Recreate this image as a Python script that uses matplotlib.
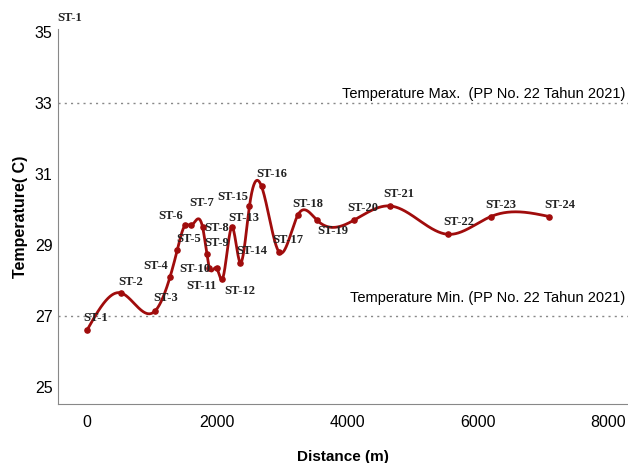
import numpy as np
import matplotlib.pyplot as plt

stations = [f'ST-{i}' for i in range(1, 25)]
distance = [0, 520, 1050, 1275, 1385, 1505, 1600, 1775, 1840, 1880, 1990, 2080,
            2225, 2355, 2495, 2680, 2950, 3240, 3530, 4100, 4650, 5550, 6200, 7100]
temperature = [26.6, 27.65, 27.15, 28.1, 28.85, 29.55, 29.55, 29.5, 28.75, 28.35, 28.35, 28.05,
               29.5, 28.5, 30.1, 30.65, 28.8, 29.85, 29.7, 29.7, 30.1, 29.3, 29.8, 29.8]
t_max, t_min = 33, 27
yticks = [25, 27, 29, 31, 33, 35]
xticks = [0, 2000, 4000, 6000, 8000]

# label offsets in pixels (dx, dy up)
offs = [(9, 12), (10, 11), (10, 13), (-14, 11), (11, 11), (-14, 9), (10, 22), (14, -1),
        (10, 11), (-15, -1), (-15, -18), (17, -12), (12, 9), (11, 12), (-17, 9), (10, 12),
        (9, 12), (10, 11), (16, -11), (9, 12), (9, 12), (10, 12), (10, 12), (10, 12)]


def natural_spline(x, y, xs):
    x = np.asarray(x, float); y = np.asarray(y, float)
    n = len(x); h = np.diff(x)
    A = np.zeros((n, n)); r = np.zeros(n)
    A[0, 0] = A[-1, -1] = 1
    for i in range(1, n - 1):
        A[i, i-1] = h[i-1]; A[i, i] = 2 * (h[i-1] + h[i]); A[i, i+1] = h[i]
        r[i] = 3 * ((y[i+1] - y[i]) / h[i] - (y[i] - y[i-1]) / h[i-1])
    c = np.linalg.solve(A, r)
    b = (y[1:] - y[:-1]) / h - h * (2 * c[:-1] + c[1:]) / 3
    d = (c[1:] - c[:-1]) / (3 * h)
    k = np.clip(np.searchsorted(x, xs) - 1, 0, n - 2)
    t = xs - x[k]
    return y[k] + b[k] * t + c[k] * t**2 + d[k] * t**3


fig = plt.figure(figsize=(6.28, 4.63), dpi=100)
ax = fig.add_axes([0.0924, 0.1274, 0.9076, 0.8096])

xs = np.linspace(distance[0], distance[-1], 2000)
ax.plot(xs, natural_spline(distance, temperature, xs), color='#a00c0c', lw=2, zorder=3)
ax.scatter(distance, temperature, s=14, color='#a00c0c', zorder=4)

for st, d, t, (dx, dy) in zip(stations, distance, temperature, offs):
    ax.annotate(st, (d, t), xytext=(dx * 0.72, dy * 0.72), textcoords='offset points',
                ha='center', va='center', fontsize=9, family='Liberation Serif',
                fontweight='bold', color='#222222', zorder=5)

ax.axhline(t_max, color='#888888', ls=(0, (1.5, 3)), lw=1, zorder=1)
ax.axhline(t_min, color='#888888', ls=(0, (1.5, 3)), lw=1, zorder=1)
ax.text(8260, t_max + 0.05, 'Temperature Max.  (PP No. 22 Tahun 2021)', ha='right', va='bottom',
        fontsize=10.5, family='Liberation Sans')
ax.text(8260, t_min + 0.3, 'Temperature Min. (PP No. 22 Tahun 2021)', ha='right', va='bottom',
        fontsize=10.5, family='Liberation Sans')

ax.set_xlim(-445, 8307)
ax.set_ylim(24.52, 35.08)
ax.set_xticks(xticks)
ax.set_yticks(yticks)
ax.tick_params(length=0, labelsize=11.5)
ax.tick_params(axis='x', pad=8)
ax.tick_params(axis='y', pad=4)
for lab in ax.get_xticklabels() + ax.get_yticklabels():
    lab.set_family('Liberation Sans')
for s in ['top', 'right']:
    ax.spines[s].set_visible(False)
for s in ['left', 'bottom']:
    ax.spines[s].set_color('#888888')
ax.set_xlabel('Distance (m)', fontsize=11, fontweight='bold', family='Liberation Sans', labelpad=14)
ax.set_ylabel('Temperature( C)', fontsize=11.5, fontweight='bold', family='Liberation Sans', labelpad=5)

fig.text(70 / 628, 1 - 18 / 463, 'ST-1', ha='center', va='center', fontsize=9,
         family='Liberation Serif', fontweight='bold', color='#222222')

fig.savefig('out.png', dpi=100)
